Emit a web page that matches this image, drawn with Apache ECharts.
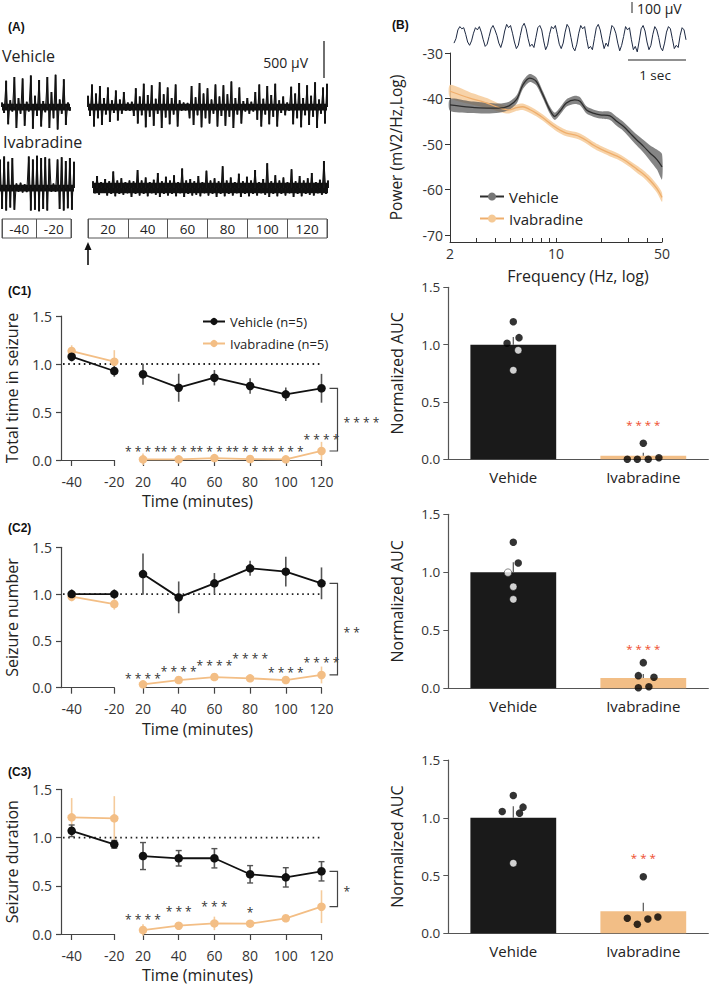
<!DOCTYPE html>
<html><head><meta charset="utf-8">
<script src="https://cdn.jsdelivr.net/npm/echarts@6/dist/echarts.min.js"></script>
<style>html,body{margin:0;padding:0;background:#fff}#c{width:709px;height:985px}</style>
</head><body><div id="c"></div>
<script>
// ================= DATA =================
// Panel A: EEG excerpts (µV)
const eegVehiclePre = [60,-80,350,-230,90,-60,400,-280,120,-90,380,-250,70,-60,420,-290,150,-120,360,-260,80,-70,400,-280,200,-150,430,-300,100,-90,370,-240,60,-50];
const eegVehiclePost = [150,-120,300,-260,180,-150,280,-240,120,-100,260,-200,90,-80,220,-180,100,-90,200,
  -50,60,-50,70,
  -120,250,-220,140,-110,310,-270,160,-130,290,-250,110,-90,330,-280,170,-140,260,-230,120,-100,300,-260,90,
  -50,60,-45,55,
  -150,280,-240,130,-110,320,-270,180,-150,250,-220,100,-90,300,-260,140,-120,290,-250,170,-130,340,-280,120,-100,260,-220,80,
  -60,120,-90,70,-60,
  200,-170,300,-260,110,-100,280,-230,160,-130,310,-260,90,-80,140,-110,60,-50,270,-230,180,-150,320,-270,120,-110,290,-240,150,-130,330,-280,100,-90,260,-220,310];
const eegIvaPre = [380,-280,420,-300,350,-260,400,-290,
  60,-50,70,-60,50,-55,
  420,-300,380,-290,430,-310,400,-280,410,-300,390,
  -50,60,-50,
  380,-280,410,-300,360,-270,400,-290,350];
const eegIvaPost = [90,-70,160,-90,80,-60,120,-100,90,-80,220,-110,100,-80,130,-90,80,-70,100,-120,
  90,-80,240,-100,100,-80,140,-110,80,-70,110,-90,200,-120,90,-80,150,-100,100,-80,
  170,-110,80,-70,260,-120,100,-80,120,-100,90,-90,160,-110,80,-70,230,-100,100,-80,
  130,-120,90,-80,290,-110,100,-80,140,-100,80,-70,190,-120,90,-80,150,-110,100,-80,
  240,-100,80,-70,120,-90,330,-120,90,-80,170,-110,100,-80,140,-100,80,-70,250,-120,
  90,-80,160,-110,100,-80,130,-90,200,-100,80,-70,110,-90,360,-80,100];
// background (noise-floor) amplitude of each excerpt, µV
const eegCoreVehicle = 45, eegCoreIvaPre = 45, eegCoreIvaPost = 70;
const boxLabelsPre = ['-40','-20'];
const boxLabelsPost = ['20','40','60','80','100','120'];

// Panel B: example trace (µV) and power spectra
const traceB = [-60,-20,60,90,70,80,20,-50,-80,-40,30,80,60,90,40,-30,-90,-70,0,70,100,60,10,-60,-100,-40,50,110,80,100,30,-50,-110,-80,10,90,120,70,-20,-90,-70,-100,-10,80,100,60,-40,-120,-80,20,90,70,100,20,-70,-110,-60,40,110,80,-10,-100,-130,-70,30,100,70,90,-20,-110,-90,-120,-20,80,110,60,-30,-110,-60,-90,10,100,80,30,-60,-130,-80,0,90,60,80,-30,-120,-90,-140,-40,70,100,50,-50,-120,-80,20,90,60,-10,-100,-130,-60,40,90,70,-20,-110,-80,-100,10,80,60,-30];
const psdFreq    = [2,2.7,3.5,4.2,4.9,5.5,6.05,6.7,7.4,8.2,9.1,9.8,10.6,11.7,13.3,14.4,15.9,17.6,19.5,22.7,25.1,27.8,30.8,34.1,37.8,41.8,46.3,50];
const psdVehMean = [-41.4,-41.9,-42.1,-42.1,-41.6,-40.2,-37.0,-35.5,-36.2,-39.2,-42.5,-43.9,-42.8,-41.0,-40.3,-40.6,-42.5,-43.2,-43.6,-43.8,-45.0,-46.1,-47.6,-49.1,-50.5,-52.0,-53.4,-55.0];
const psdVehSem  = [1.3,1.3,1.2,1.0,0.9,0.9,0.9,0.9,0.9,0.8,0.8,0.8,0.8,0.8,0.9,0.9,0.8,0.8,0.8,0.9,1.0,1.0,1.1,1.2,1.4,1.7,2.2,2.8];
const psdIvaMean = [-38.4,-39.9,-41.0,-42.0,-42.5,-42.0,-41.8,-42.4,-43.2,-44.2,-45.4,-46.2,-46.9,-47.6,-48.0,-48.4,-49.2,-50.2,-51.0,-52.0,-52.6,-53.4,-54.4,-55.5,-56.6,-58.0,-59.8,-61.7];
const psdIvaSem  = [1.4,1.3,1.1,0.9,0.8,0.7,0.7,0.7,0.7,0.7,0.7,0.7,0.7,0.7,0.7,0.7,0.7,0.7,0.7,0.7,0.7,0.7,0.7,0.8,0.8,0.9,0.9,1.0];
const psdXLabels = [2,10,50];
const psdXTicks  = [2,3,4,5,6,7,8,9,10,20,30,40,50];
const psdYTicks  = [-70,-60,-50,-40,-30];

// Panels C: time courses (normalized)
const timePre  = [-40,-20];
const timePost = [20,40,60,80,100,120];
const refLevel = 1.0;

const c1VehMean = [1.076,0.927,0.893,0.753,0.857,0.771,0.684,0.747];
const c1VehErr  = [0.05,0.06,0.11,0.146,0.08,0.08,0.07,0.15];
const c1IvaMean = [1.135,1.024,0.007,0.007,0.02,0.01,0.007,0.094];
const c1IvaErr  = [0.06,0.12,0.06,0.01,0.015,0.01,0.01,0.095];
const c1Sig      = ['****','****','****','****','****','****'];
const c1SigLevel = [0.115,0.115,0.115,0.115,0.115,0.24];
const c1Bracket  = '****';

const c2VehMean = [1.0,1.0,1.214,0.965,1.115,1.275,1.24,1.115];
const c2VehErr  = [0.05,0.05,0.22,0.17,0.11,0.08,0.16,0.17];
const c2IvaMean = [0.972,0.894,0.036,0.082,0.114,0.1,0.082,0.136];
const c2IvaErr  = [0.05,0.06,0.03,0.02,0.03,0.02,0.02,0.09];
const c2Sig      = ['****','****','****','****','****','****'];
const c2SigLevel = [0.128,0.207,0.267,0.342,0.196,0.303];
const c2Bracket  = '**';

const c3VehMean = [1.07,0.93,0.808,0.785,0.785,0.619,0.587,0.65];
const c3VehErr  = [0.06,0.04,0.14,0.08,0.1,0.09,0.1,0.1];
const c3IvaMean = [1.209,1.199,0.041,0.086,0.11,0.107,0.163,0.283];
const c3IvaErr  = [0.2,0.23,0.06,0.03,0.07,0.02,0.03,0.17];
const c3Sig      = ['****','***','***','*','',''];
const c3SigLevel = [0.18,0.266,0.318,0.249,0,0];
const c3Bracket  = '*';

// AUC bar charts
const barCats = ['Vehide','Ivabradine'];
const c1BarMean = [1.0,0.031];  const c1BarSem = [0.066,0.027];
const c1VehDots = [1.20,1.012,1.061,0.951,0.777]; const c1VehJit = [0,-0.048,0.044,0.038,0];
const c1IvaDots = [0.14,0.0,0.0,0.0,0.014];       const c1IvaJit = [0,-0.123,-0.046,0.038,0.12];
const c1BarSig = '****'; const c1BarSigLevel = 0.328;

const c2BarMean = [1.0,0.089];  const c2BarSem = [0.086,0.034];
const c2VehDots = [1.259,1.08,0.997,0.876,0.767]; const c2VehJit = [0,0.038,-0.041,0,0];
const c2IvaDots = [0.221,0.109,0.095,0.005,0.014]; const c2IvaJit = [0,-0.038,0.082,-0.038,0.043];
const c2BarSig = '****'; const c2BarSigLevel = 0.373;

const c3BarMean = [1.0,0.19];   const c3BarSem = [0.10,0.075];
const c3VehDots = [1.193,1.054,1.092,1.04,0.607]; const c3VehJit = [0,-0.085,0.075,0.048,0];
const c3IvaDots = [0.49,0.13,0.078,0.124,0.141];  const c3IvaJit = [0,-0.123,-0.046,0.035,0.112];
const c3BarSig = '***'; const c3BarSigLevel = 0.679;

// ================= STYLE / BUILD =================
const FONT = "'Open Sans','Noto Sans',sans-serif";
const BLACK = '#111111', ORANGE = '#F3BE85', ORANGE_ERR = '#F5CB9C', AXIS = '#444';
const grid = [], xAxis = [], yAxis = [], series = [], graphic = [];
const addGrid = g => (grid.push(g), grid.length - 1);
const addX = a => (xAxis.push(a), xAxis.length - 1);
const addY = a => (yAxis.push(a), yAxis.length - 1);
const spaced = s => s.split('').join(' ');

// EEG excerpt: noise-floor band, a spike per sample, and the connecting trace
function eegTrace(arr, core, left, top, width, height, range) {
  const g = addGrid({left, top, width, height});
  const xi = addX({type:'value', gridIndex:g, min:0, max:arr.length - 1, show:false});
  const yi = addY({type:'value', gridIndex:g, min:-range, max:range, show:false});
  series.push({type:'custom', xAxisIndex:xi, yAxisIndex:yi, silent:true,
    data:[[0, core, arr.length - 1]],
    renderItem(params, api) {
      const a = api.coord([api.value(0), api.value(1)]), b = api.coord([api.value(2), -api.value(1)]);
      return {type:'rect', shape:{x:a[0], y:a[1], width:b[0] - a[0], height:b[1] - a[1]}, style:{fill:'#111'}};
    }});
  series.push({type:'bar', xAxisIndex:xi, yAxisIndex:yi, silent:true, barWidth:2,
    itemStyle:{color:'#1a1a1a'}, data: arr.map((v,i)=>[i, v])});
  series.push({type:'line', xAxisIndex:xi, yAxisIndex:yi, data:arr.map((v,i)=>[i,v]),
    symbol:'none', lineStyle:{color:'#111', width:1}, silent:true});
}
function lineTrace(arr, left, top, width, height, range, color, lw) {
  const g = addGrid({left, top, width, height});
  const xi = addX({type:'value', gridIndex:g, min:0, max:arr.length - 1, show:false});
  const yi = addY({type:'value', gridIndex:g, min:-range, max:range, show:false});
  series.push({type:'line', xAxisIndex:xi, yAxisIndex:yi, data:arr.map((v,i)=>[i,v]),
    symbol:'none', lineStyle:{color, width:lw}, silent:true});
}
function timeBox(labels, left, width) {
  const g = addGrid({left, top:219, width, height:19, show:true, borderColor:'#555', borderWidth:1});
  addX({type:'category', gridIndex:g, data:labels, boundaryGap:true,
    axisLine:{show:false}, axisTick:{show:false},
    splitLine:{show:true, interval:0, lineStyle:{color:'#555', width:1}},
    axisLabel:{inside:true, margin:9.5, verticalAlign:'middle', fontSize:13.5, color:'#222', fontFamily:FONT, interval:0}});
  addY({type:'value', gridIndex:g, min:0, max:1, show:false});
}

// ---- Panel A ----
eegTrace(eegVehiclePre, eegCoreVehicle, 2, 69.5, 68, 75, 500);
eegTrace(eegVehiclePost, eegCoreVehicle, 88, 69.5, 239, 75, 500);
eegTrace(eegIvaPre, eegCoreIvaPre, 0, 143, 74, 90, 600);
eegTrace(eegIvaPost, eegCoreIvaPost, 93, 143, 235, 90, 600);
timeBox(boxLabelsPre, 2, 69);
timeBox(boxLabelsPost, 88, 239);

// ---- Panel B ----
lineTrace(traceB, 454, 20, 232, 33, 150, '#1d2942', 1);
const gB = addGrid({left:450, top:53, width:212, height:189});
const xB = addX({type:'log', gridIndex:gB, min:2, max:50, logBase:10,
  axisLine:{lineStyle:{color:'#333', width:1}},
  axisTick:{show:true, inside:true, length:4, customValues:psdXTicks, lineStyle:{color:'#333'}},
  minorTick:{show:false}, splitLine:{show:false},
  axisLabel:{customValues:psdXLabels, fontSize:14, color:'#333', margin:4, fontFamily:FONT},
  name:'Frequency (Hz, log)', nameLocation:'middle', nameGap:26,
  nameTextStyle:{fontSize:16, color:'#222', fontFamily:FONT, padding:[0,0,0,44]}});
const yB = addY({type:'value', gridIndex:gB, min:-71.5, max:-30,
  axisLine:{show:true, onZero:false, lineStyle:{color:'#333', width:1}},
  axisTick:{show:true, length:5, customValues:psdYTicks, lineStyle:{color:'#333'}},
  splitLine:{show:false},
  axisLabel:{customValues:psdYTicks, fontSize:14, color:'#333', margin:7, fontFamily:FONT},
  name:'Power (mV2/Hz,Log)', nameLocation:'middle', nameGap:46,
  nameTextStyle:{fontSize:15.5, color:'#222', fontFamily:FONT}});
function band(mean, sem, color, opacity) {
  return {type:'custom', xAxisIndex:xB, yAxisIndex:yB, silent:true,
    data: psdFreq.map((f,i)=>[f, mean[i]]),
    renderItem(params, api) {
      if (params.dataIndex !== 0) return null;
      const up = psdFreq.map((f,i)=>api.coord([f, mean[i] + sem[i]]));
      const lo = psdFreq.map((f,i)=>api.coord([f, mean[i] - sem[i]])).reverse();
      return {type:'polygon', shape:{points: up.concat(lo), smooth:0.25}, style:{fill:color, opacity}};
    }};
}
series.push(band(psdIvaMean, psdIvaSem, '#F6CB9A', 0.85));
series.push(band(psdVehMean, psdVehSem, '#5c5c5c', 0.75));
series.push({type:'line', name:'Ivabradine', xAxisIndex:xB, yAxisIndex:yB, smooth:0.3,
  data: psdFreq.map((f,i)=>[f, psdIvaMean[i]]), symbol:'circle', symbolSize:9, showSymbol:false,
  itemStyle:{color:'#F5C995'}, lineStyle:{color:'#EFAE6C', width:1.3}});
series.push({type:'line', name:'Vehicle', xAxisIndex:xB, yAxisIndex:yB, smooth:0.3,
  data: psdFreq.map((f,i)=>[f, psdVehMean[i]]), symbol:'circle', symbolSize:9, showSymbol:false,
  itemStyle:{color:'#777'}, lineStyle:{color:'#2e2e2e', width:1.3}});

// ---- Panels C (time courses) ----
function errSeries(xi, yi, times, mean, err, offset, color, cap) {
  return {type:'custom', xAxisIndex:xi, yAxisIndex:yi, silent:true, z:2,
    data: times.map((t,i)=>[t, mean[i + offset], err[i + offset]]),
    renderItem(params, api) {
      const x = api.value(0), m = api.value(1), e = api.value(2);
      const p1 = api.coord([x, m - e]), p2 = api.coord([x, m + e]);
      const ch = [{type:'line', shape:{x1:p1[0], y1:p1[1], x2:p2[0], y2:p2[1]}, style:{stroke:color, lineWidth:1.6}}];
      if (cap) {
        ch.push({type:'line', shape:{x1:p1[0]-3, y1:p1[1], x2:p1[0]+3, y2:p1[1]}, style:{stroke:color, lineWidth:1.4}});
        ch.push({type:'line', shape:{x1:p2[0]-3, y1:p2[1], x2:p2[0]+3, y2:p2[1]}, style:{stroke:color, lineWidth:1.4}});
      }
      return {type:'group', children:ch};
    }};
}
function lineSeries(name, xi, yi, times, mean, offset, color) {
  return {type:'line', name, xAxisIndex:xi, yAxisIndex:yi, z:3,
    data: times.map((t,i)=>[t, mean[i + offset]]),
    symbol:'circle', symbolSize:8.5, showSymbol:true,
    itemStyle:{color}, lineStyle:{color, width:1.8}};
}
function cPanel(c) {
  const axisCommon = {axisLine:{show:true, onZero:false, lineStyle:{color:AXIS, width:1.2}}, splitLine:{show:false}};
  const gL = addGrid({left:61, top:c.top, width:53.3, height:c.height});
  const xL = addX(Object.assign({type:'value', gridIndex:gL, min:-45, max:-20,
    axisTick:{show:true, length:6, customValues:timePre, lineStyle:{color:AXIS, width:1.2}},
    axisLabel:{customValues:timePre, fontSize:14, color:'#333', margin:14, fontFamily:FONT}}, axisCommon));
  const yL = addY(Object.assign({type:'value', gridIndex:gL, min:0, max:1.5, interval:0.5,
    axisTick:{show:true, length:5, lineStyle:{color:AXIS, width:1.2}},
    axisLabel:{formatter:v=>v.toFixed(1), fontSize:14, color:'#333', margin:9, fontFamily:FONT},
    name:c.yName, nameLocation:'middle', nameGap:41,
    nameTextStyle:{fontSize:16, color:'#222', fontFamily:FONT}}, axisCommon));
  const gR = addGrid({left:143, top:c.top, width:178.5, height:c.height});
  const xR = addX(Object.assign({type:'value', gridIndex:gR, min:20, max:120, interval:20,
    axisTick:{show:true, length:6, lineStyle:{color:AXIS, width:1.2}},
    axisLabel:{fontSize:14, color:'#333', margin:14, fontFamily:FONT}}, axisCommon));
  const yR = addY({type:'value', gridIndex:gR, min:0, max:1.5, show:false});
  const gF = addGrid({left:63, top:c.top, width:259, height:c.height});
  const xF = addX({type:'value', gridIndex:gF, min:0, max:1, axisLine:{show:false}, axisTick:{show:false},
    axisLabel:{show:false}, splitLine:{show:false},
    name:'Time (minutes)', nameLocation:'middle', nameGap:33,
    nameTextStyle:{fontSize:16, color:'#222', fontFamily:FONT, padding:[0,0,0,10]}});
  const yF = addY({type:'value', gridIndex:gF, min:0, max:1.5, show:false});
  series.push({type:'line', xAxisIndex:xF, yAxisIndex:yF, data:[[0, refLevel],[1, refLevel]], symbol:'none',
    silent:true, z:1, lineStyle:{color:'#222', width:1.8, type:[1.6,3.6]}});
  // pre segment
  series.push(errSeries(xL, yL, timePre, c.ivaMean, c.ivaErr, 0, ORANGE_ERR, false));
  series.push(errSeries(xL, yL, timePre, c.vehMean, c.vehErr, 0, '#555', c.caps));
  series.push(lineSeries('Ivabradine (n=5)', xL, yL, timePre, c.ivaMean, 0, ORANGE));
  series.push(lineSeries('Vehicle (n=5)', xL, yL, timePre, c.vehMean, 0, BLACK));
  // post segment
  series.push(errSeries(xR, yR, timePost, c.ivaMean, c.ivaErr, 2, ORANGE_ERR, false));
  series.push(errSeries(xR, yR, timePost, c.vehMean, c.vehErr, 2, '#555', c.caps));
  series.push(lineSeries('Ivabradine (n=5)', xR, yR, timePost, c.ivaMean, 2, ORANGE));
  series.push(lineSeries('Vehicle (n=5)', xR, yR, timePost, c.vehMean, 2, BLACK));
  // significance stars
  series.push({type:'custom', xAxisIndex:xR, yAxisIndex:yR, silent:true, z:4,
    data: timePost.map((t,i)=>[t, c.sigLevel[i], i]),
    renderItem(params, api) {
      const s = c.sig[api.value(2)];
      if (!s) return null;
      const p = api.coord([api.value(0), api.value(1)]);
      return {type:'text', x:p[0], y:p[1] + 3,
        style:{text:spaced(s), fontSize:12, fontFamily:FONT, fill:'#333', align:'center', verticalAlign:'middle'}};
    }});
  // bracket between groups at last time point
  const last = timePost.length - 1;
  series.push({type:'custom', xAxisIndex:xR, yAxisIndex:yR, silent:true, z:4,
    data:[[timePost[last], c.vehMean[last + 2], c.ivaMean[last + 2]]],
    renderItem(params, api) {
      const a = api.coord([api.value(0), api.value(1)]), b = api.coord([api.value(0), api.value(2)]);
      const x0 = a[0] + 8, x1 = a[0] + 16;
      return {type:'group', children:[
        {type:'polyline', shape:{points:[[x0,a[1]],[x1,a[1]],[x1,b[1]],[x0,b[1]]]}, style:{stroke:'#444', lineWidth:1.2, fill:null}},
        {type:'text', x:x1 + 6, y:(a[1] + b[1]) / 2 + 3,
          style:{text:spaced(c.bracket), fontSize:12, fontFamily:FONT, fill:'#333', align:'left', verticalAlign:'middle'}}
      ]};
    }});
}
cPanel({top:316, height:144, yName:'Total time in seizure', vehMean:c1VehMean, vehErr:c1VehErr,
  ivaMean:c1IvaMean, ivaErr:c1IvaErr, sig:c1Sig, sigLevel:c1SigLevel, bracket:c1Bracket, caps:false});
cPanel({top:547.3, height:140.4, yName:'Seizure number', vehMean:c2VehMean, vehErr:c2VehErr,
  ivaMean:c2IvaMean, ivaErr:c2IvaErr, sig:c2Sig, sigLevel:c2SigLevel, bracket:c2Bracket, caps:false});
cPanel({top:789.3, height:144.7, yName:'Seizure duration', vehMean:c3VehMean, vehErr:c3VehErr,
  ivaMean:c3IvaMean, ivaErr:c3IvaErr, sig:c3Sig, sigLevel:c3SigLevel, bracket:c3Bracket, caps:true});

// ---- AUC bar charts ----
function barPanel(b) {
  const g = addGrid({left:448.3, top:b.top, width:260, height:b.height});
  const xc = addX({type:'category', gridIndex:g, data:barCats, boundaryGap:true,
    axisLine:{show:true, onZero:false, lineStyle:{color:'#555', width:1.2}}, axisTick:{show:false},
    axisLabel:{fontSize:15, color:'#222', margin:10, fontFamily:FONT}});
  const xv = addX({type:'value', gridIndex:g, min:-0.5, max:1.5, show:false});
  const y = addY({type:'value', gridIndex:g, min:0, max:1.5, interval:0.5,
    axisLine:{show:true, onZero:false, lineStyle:{color:'#555', width:1.2}},
    axisTick:{show:true, length:5, lineStyle:{color:'#555'}}, splitLine:{show:false},
    axisLabel:{formatter:v=>v.toFixed(1), fontSize:13.5, color:'#333', margin:8, fontFamily:FONT},
    name:'Normalized AUC', nameLocation:'middle', nameGap:43,
    nameTextStyle:{fontSize:16, color:'#222', fontFamily:FONT}});
  const barColors = ['#1a1a1a', '#F2BE86'];
  series.push({type:'bar', xAxisIndex:xc, yAxisIndex:y, barWidth:'66%', silent:true,
    data: b.mean.map((v,i)=>({value:v, itemStyle:{color:barColors[i]}}))});
  series.push({type:'custom', xAxisIndex:xc, yAxisIndex:y, silent:true, z:3,
    data: b.mean.map((v,i)=>[i, v, b.sem[i]]),
    renderItem(params, api) {
      const p1 = api.coord([api.value(0), api.value(1)]), p2 = api.coord([api.value(0), api.value(1) + api.value(2)]);
      return {type:'line', shape:{x1:p1[0], y1:p1[1], x2:p2[0], y2:p2[1]}, style:{stroke:'#555', lineWidth:1.2}};
    }});
  const dots = [];
  b.vehDots.forEach((v,i)=>{
    const inside = v < b.mean[0];
    dots.push({value:[0 + b.vehJit[i], v], itemStyle:{color: inside ? '#fff' : '#000', borderColor:'#000', borderWidth: inside ? 0.6 : 0}});
  });
  b.ivaDots.forEach((v,i)=>dots.push({value:[1 + b.ivaJit[i], v], itemStyle:{color:'#000'}}));
  series.push({type:'scatter', xAxisIndex:xv, yAxisIndex:y, symbolSize:7.5, silent:true, z:4, data:dots});
  series.push({type:'custom', xAxisIndex:xc, yAxisIndex:y, silent:true, z:4,
    data:[[1, b.sigLevel]],
    renderItem(params, api) {
      const p = api.coord([api.value(0), api.value(1)]);
      return {type:'text', x:p[0], y:p[1] + 3,
        style:{text:spaced(b.sig), fontSize:11.5, fontFamily:FONT, fill:'#EE4B2B', align:'center', verticalAlign:'middle'}};
    }});
}
barPanel({top:287.3, height:172, mean:c1BarMean, sem:c1BarSem, vehDots:c1VehDots, vehJit:c1VehJit,
  ivaDots:c1IvaDots, ivaJit:c1IvaJit, sig:c1BarSig, sigLevel:c1BarSigLevel});
barPanel({top:514.3, height:174, mean:c2BarMean, sem:c2BarSem, vehDots:c2VehDots, vehJit:c2VehJit,
  ivaDots:c2IvaDots, ivaJit:c2IvaJit, sig:c2BarSig, sigLevel:c2BarSigLevel});
barPanel({top:760, height:173.3, mean:c3BarMean, sem:c3BarSem, vehDots:c3VehDots, vehJit:c3VehJit,
  ivaDots:c3IvaDots, ivaJit:c3IvaJit, sig:c3BarSig, sigLevel:c3BarSigLevel});

// ---- annotations ----
const txt = (text, x, y, size, opts) => Object.assign({type:'text', x, y, silent:true,
  style:Object.assign({text, fontSize:size, fontFamily:FONT, fill:'#222', align:'left', verticalAlign:'middle'}, (opts||{}).style||{})});
const ln = (x1,y1,x2,y2,w) => ({type:'line', silent:true, shape:{x1,y1,x2,y2}, style:{stroke:'#222', lineWidth:w||1.2}});
const bold = {style:{fontFamily:"'Liberation Sans',Arial,sans-serif", fontWeight:'bold', fontSize:12, fill:'#111'}};
graphic.push(txt('(A)', 8, 27, 12, bold), txt('(B)', 392, 25, 12, bold), txt('(C1)', 8, 291, 12, bold),
  txt('(C2)', 8, 528, 12, bold), txt('(C3)', 8, 772, 12, bold));
graphic.push(txt('Vehicle', 2, 56, 16), txt('Ivabradine', 3, 142, 16));
graphic.push(txt('500 µV', 308, 62, 14, {style:{align:'right'}}), ln(324, 41, 324, 78, 1.3));
graphic.push({type:'line', silent:true, shape:{x1:88, y1:265, x2:88, y2:249}, style:{stroke:'#111', lineWidth:1.6}},
  {type:'polygon', silent:true, shape:{points:[[88,242],[84.5,250],[91.5,250]]}, style:{fill:'#111'}});
graphic.push(ln(632, 2, 632, 13, 1), txt('100 µV', 637, 8, 14), ln(628, 60, 686, 60, 1.2),
  txt('1 sec', 655, 75, 13.5, {style:{align:'center'}}));

const option = {
  animation:false,
  backgroundColor:'#fff',
  textStyle:{fontFamily:FONT},
  grid, xAxis, yAxis, series, graphic,
  legend:[
    {data:['Vehicle','Ivabradine'], left:474, top:184, orient:'vertical', itemWidth:24, itemHeight:10, itemGap:7,
      selectedMode:false, textStyle:{fontSize:15, fontFamily:FONT, color:'#222'}},
    {data:['Vehicle (n=5)','Ivabradine (n=5)'], left:197, top:310, orient:'vertical', itemWidth:22, itemHeight:9, itemGap:9,
      selectedMode:false, textStyle:{fontSize:13, fontFamily:FONT, color:'#222'}}
  ]
};
const chart = echarts.init(document.getElementById('c'), null, {renderer:'svg', width:709, height:985});
chart.setOption(option);
</script></body></html>
